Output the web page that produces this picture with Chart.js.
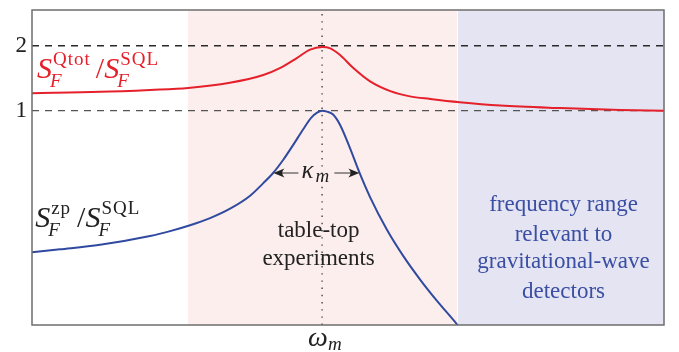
<!DOCTYPE html>
<html><head><meta charset="utf-8">
<script src="https://cdn.jsdelivr.net/npm/chart.js@4/dist/chart.umd.min.js"></script>
<style>html,body{margin:0;padding:0;background:#fff}#wrap{width:679px;height:352px}</style>
</head><body><div id="wrap"><canvas id="c" width="679" height="352"></canvas></div>
<script>
// ---- data (x in units where omega_m = 0) ----
const xRed  = [-4.59,-3.51,-2.72,-2.12,-1.46,-0.93,-0.66,-0.40,-0.19,0.00,0.13,0.28,0.49,0.76,1.08,1.39,1.71,2.18,2.82,3.77,4.72,5.41];
const yRed  = [1.27,1.29,1.32,1.35,1.43,1.55,1.66,1.81,1.94,1.98,1.96,1.86,1.66,1.45,1.30,1.22,1.18,1.13,1.08,1.04,1.01,1.00];
const xBlue = [-4.589,-4.146,-3.513,-2.722,-2.405,-2.089,-1.772,-1.456,-1.139,-0.934,-0.775,-0.617,-0.459,-0.301,-0.174,-0.079,0.000,0.079,0.174,0.285,0.443,0.590,0.759,1.024,1.286,1.551,1.815,2.131,2.184];
const yBlue = [-1.18,-1.135,-1.065,-0.93,-0.855,-0.765,-0.655,-0.51,-0.31,-0.12,0.04,0.24,0.47,0.71,0.89,0.97,1.00,0.985,0.94,0.78,0.42,0.05,-0.33,-0.83,-1.24,-1.60,-1.925,-2.285,-2.35];
const yTickValues = [1, 2];
const refLevels = [1, 2];
const omegaM = 0;
const tableTopRange = [-2.12, 2.15];
const gwRange = [2.15, 5.41];
const kappaSpan = [-0.77, 0.59];
const kappaY = 0.04;
const xMin = -4.59, xMax = 5.41, yMin = -2.30, yMax = 2.55;
const tableTopText = ['table-top', 'experiments'];
const gwText = ['frequency range', 'relevant to', 'gravitational-wave', 'detectors'];

const RED = '#e5202a', BLUE = '#2f4a9f';
const SERIF = '"Liberation Serif","DejaVu Serif",serif';

const toPts = (xs, ys) => xs.map((x, i) => ({x, y: ys[i]}));

const regionPlugin = {
  id: 'regions',
  beforeDatasetsDraw(chart) {
    const {ctx, chartArea: a, scales: {x}} = chart;
    ctx.save();
    const p0 = x.getPixelForValue(tableTopRange[0]), p1 = x.getPixelForValue(tableTopRange[1]);
    const g0 = x.getPixelForValue(gwRange[0]), g1 = x.getPixelForValue(gwRange[1]);
    ctx.fillStyle = '#fdeeee';
    ctx.fillRect(p0, a.top, p1 - 1 - p0, a.bottom - a.top);
    ctx.fillStyle = '#e4e4f2';
    ctx.fillRect(g0, a.top, g1 - g0, a.bottom - a.top);
    ctx.restore();
  }
};

function mathRun(ctx, x, y, parts) {
  let cx = x;
  for (const p of parts) {
    ctx.letterSpacing = '0px';
    ctx.font = p.mainFont;
    ctx.fillText(p.main, cx, y);
    cx += ctx.measureText(p.main).width;
    let w = 0;
    if (p.sub) { ctx.font = 'italic 19px ' + SERIF; ctx.fillText(p.sub, cx - 2, y + 9); w = Math.max(w, ctx.measureText(p.sub).width - 2); }
    if (p.sup) { ctx.font = '19px ' + SERIF; ctx.letterSpacing = '1px'; ctx.fillText(p.sup, cx + 1, y - 13); w = Math.max(w, ctx.measureText(p.sup).width + 1); ctx.letterSpacing = '0px'; }
    cx += w + (p.after || 0);
  }
}

function arrowHead(ctx, tipX, y, dir) {
  const L = 11, H = 4.5;
  ctx.beginPath();
  ctx.moveTo(tipX, y);
  ctx.lineTo(tipX - dir * L, y - H);
  ctx.quadraticCurveTo(tipX - dir * L * 0.6, y, tipX - dir * L, y + H);
  ctx.closePath();
  ctx.fill();
}

const textPlugin = {
  id: 'texts',
  afterDatasetsDraw(chart) {
    const {ctx, chartArea: a, scales: {x, y}} = chart;
    ctx.save();
    ctx.strokeStyle = '#6e6e6e'; ctx.lineWidth = 1.5;
    ctx.strokeRect(a.left, a.top, a.right - a.left, a.bottom - a.top);
    // kappa arrow
    const ky = y.getPixelForValue(kappaY);
    const k1 = x.getPixelForValue(kappaSpan[0]), k2 = x.getPixelForValue(kappaSpan[1]);
    ctx.strokeStyle = '#333'; ctx.fillStyle = '#222'; ctx.lineWidth = 1.2;
    ctx.beginPath(); ctx.moveTo(k1 + 4, ky); ctx.lineTo(k1 + 25, ky); ctx.moveTo(k2 - 25, ky); ctx.lineTo(k2 - 4, ky); ctx.stroke();
    arrowHead(ctx, k1, ky, -1); arrowHead(ctx, k2, ky, 1);
    ctx.textBaseline = 'alphabetic'; ctx.textAlign = 'left';
    ctx.font = 'italic 25px ' + SERIF; ctx.fillText('κ', k1 + 28, ky + 5);
    ctx.font = 'italic 19px ' + SERIF; ctx.fillText('m', k1 + 42, ky + 9);
    // series labels
    ctx.fillStyle = RED;
    mathRun(ctx, x.getPixelForValue(-4.51), y.getPixelForValue(1.51), [
      {main: 'S', mainFont: 'italic 30px ' + SERIF, sub: 'F', sup: 'Qtot', after: 5},
      {main: '/', mainFont: '30px ' + SERIF, after: 0},
      {main: 'S', mainFont: 'italic 30px ' + SERIF, sub: 'F', sup: 'SQL'}
    ]);
    ctx.fillStyle = '#222';
    mathRun(ctx, x.getPixelForValue(-4.54), y.getPixelForValue(-0.785), [
      {main: 'S', mainFont: 'italic 30px ' + SERIF, sub: 'F', sup: 'zp', after: 6},
      {main: '/', mainFont: '30px ' + SERIF, after: 0},
      {main: 'S', mainFont: 'italic 30px ' + SERIF, sub: 'F', sup: 'SQL'}
    ]);
    // region labels
    ctx.textAlign = 'center';
    ctx.font = '23px ' + SERIF; ctx.fillStyle = '#222';
    const tx = x.getPixelForValue(-0.055);
    [-0.94, -1.37].forEach((v, i) => ctx.fillText(tableTopText[i], tx, y.getPixelForValue(v)));
    ctx.fillStyle = '#3a4ea3';
    const gx = x.getPixelForValue(3.82);
    [-0.55, -1.0, -1.43, -1.89].forEach((v, i) => ctx.fillText(gwText[i], gx, y.getPixelForValue(v)));
    // x tick label omega_m
    ctx.fillStyle = '#222'; ctx.textAlign = 'left';
    const ox = x.getPixelForValue(omegaM);
    ctx.font = 'italic 28px ' + SERIF; ctx.fillText('ω', ox - 14, 346);
    ctx.font = 'italic 19px ' + SERIF; ctx.fillText('m', ox + 6, 350);
    ctx.restore();
  }
};

const lineDs = (data, color, dash, order, w) => ({
  data, borderColor: color, borderWidth: w, borderDash: dash, pointRadius: 0, tension: 0, order, fill: false
});

new Chart(document.getElementById('c'), {
  type: 'line',
  data: {
    datasets: [
      {data: toPts(xRed, yRed), borderColor: RED, borderWidth: 2, pointRadius: 0, cubicInterpolationMode: 'monotone', order: 1, fill: false},
      {data: toPts(xBlue, yBlue), borderColor: BLUE, borderWidth: 2, pointRadius: 0, cubicInterpolationMode: 'monotone', order: 1, fill: false},
      lineDs([{x: xMin, y: refLevels[0]}, {x: xMax, y: refLevels[0]}], '#555', [7, 6], 5, 1.4),
      lineDs([{x: xMin, y: refLevels[1]}, {x: xMax, y: refLevels[1]}], '#2a2a2a', [7, 6], 5, 1.4),
      lineDs([{x: omegaM, y: yMin}, {x: omegaM, y: yMax}], '#444', [1.4, 5.8], 6, 1.4)
    ]
  },
  options: {
    responsive: false, animation: false, devicePixelRatio: 1,
    layout: {padding: {left: 0, right: 15, top: 10, bottom: 0}},
    plugins: {legend: {display: false}, tooltip: {enabled: false}},
    scales: {
      x: {type: 'linear', min: xMin, max: xMax, grid: {display: false, drawTicks: false, tickLength: 0}, border: {display: false},
          ticks: {display: false},
          afterFit: s => { s.height = 27; s.paddingLeft = 0; s.paddingRight = 0; }},
      y: {type: 'linear', min: yMin, max: yMax, grid: {display: false, drawTicks: false, tickLength: 0}, border: {display: false},
          afterBuildTicks: s => { s.ticks = yTickValues.map(v => ({value: v})); },
          ticks: {color: '#222', padding: 5, font: {family: SERIF, size: 23}},
          afterFit: s => { s.width = 32; s.paddingTop = 0; s.paddingBottom = 0; }}
    }
  },
  plugins: [regionPlugin, textPlugin]
});
</script></body></html>
